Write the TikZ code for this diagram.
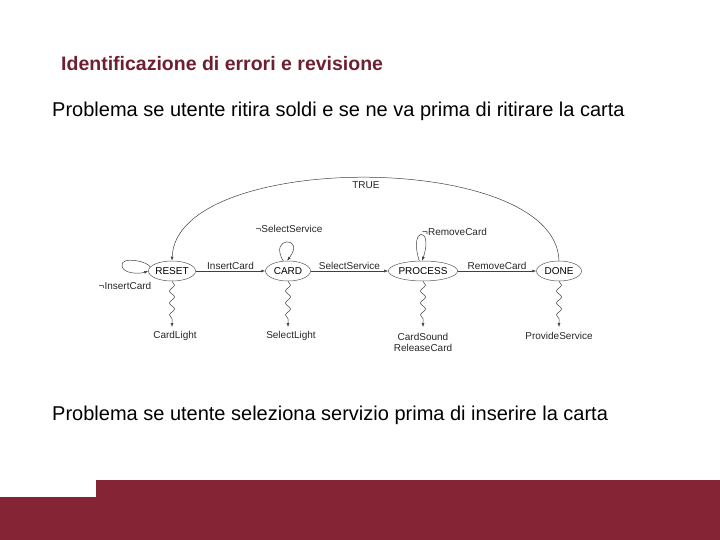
\documentclass[tikz,border=0pt]{standalone}
\usepackage{fontspec}
\setmainfont{Liberation Sans}
\usetikzlibrary{decorations.pathmorphing,arrows.meta,shapes.geometric}
\definecolor{wine}{HTML}{842434}
\definecolor{ttl}{HTML}{6E2030}
\begin{document}
\begin{tikzpicture}[x=1pt,y=-1pt,
  st/.style={draw=gray!70!black,ellipse,inner sep=0pt,minimum height=20pt,font=\fontsize{10}{11}\selectfont,line width=0.5pt},
  lbl/.style={font=\fontsize{10}{11}\selectfont,inner sep=1pt,text=black!85},
  tr/.style={-{Latex[length=4pt,width=3pt]},gray!50!black,line width=0.5pt},
  wv/.style={tr,decorate,decoration={snake,amplitude=2.5pt,segment length=12pt,post length=5pt}}]
\useasboundingbox (0,0) rectangle (720,540);
\fill[wine] (96,480) rectangle (720,540);
\fill[wine] (0,497) rectangle (96,540);
\node[anchor=west,font=\bfseries\fontsize{19.5}{22}\selectfont,text=ttl,inner sep=0pt] (title) at (61,64) {Identificazione di errori e revisione};
\node[anchor=west,font=\fontsize{20}{22}\selectfont,inner sep=0pt] (p1) at (52,111) {Problema se utente ritira soldi e se ne va prima di ritirare la carta};
\node[anchor=west,font=\fontsize{20}{22}\selectfont,inner sep=0pt] (p2) at (52,415) {Problema se utente seleziona servizio prima di inserire la carta};

\node[st,minimum width=47pt] (reset) at (172,271) {RESET};
\node[st,minimum width=45pt] (card) at (288,271) {CARD};
\node[st,minimum width=63pt] (proc) at (423,271) {PROCESS};
\node[st,minimum width=45pt] (done) at (559,271) {DONE};

\draw[tr] (reset) -- node[lbl,above]{InsertCard} (card);
\draw[tr] (card) -- node[lbl,above]{SelectService} (proc);
\draw[tr] (proc) -- node[lbl,above]{RemoveCard} (done);
\draw[tr] (done.north) .. controls (556,150) and (176,150) .. node[lbl,pos=0.5,below=3pt]{TRUE} (reset.north);

\draw[tr] (reset.170) .. controls (150,262) and (120,255) .. (122,266) .. controls (123,274) and (140,274) .. (reset.west);
\node[lbl] (nic) at (125,286) {¬InsertCard};
\draw[tr] (card.115) .. controls (268,236) and (306,236) .. (card.95);
\node[lbl] (nss) at (289,229) {¬SelectService};
\draw[tr] (proc.110) .. controls (408,226) and (434,226) .. (proc.95);
\node[lbl,anchor=west] (nrc) at (421,232) {¬RemoveCard};

\coordinate (o1) at (172,327); \coordinate (o2) at (288,327);
\coordinate (o3) at (423,327); \coordinate (o4) at (559,327);
\draw[wv] (reset.south) -- (o1);
\draw[wv] (card.south) -- (o2);
\draw[wv] (proc.south) -- (o3);
\draw[wv] (done.south) -- (o4);
\node[lbl] (l1) at (175,336) {CardLight};
\node[lbl] (l2) at (291,336) {SelectLight};
\node[lbl,align=center] (l3) at (423,342) {CardSound\\ReleaseCard};
\node[lbl] (l4) at (559,336) {ProvideService};
\end{tikzpicture}
\end{document}
